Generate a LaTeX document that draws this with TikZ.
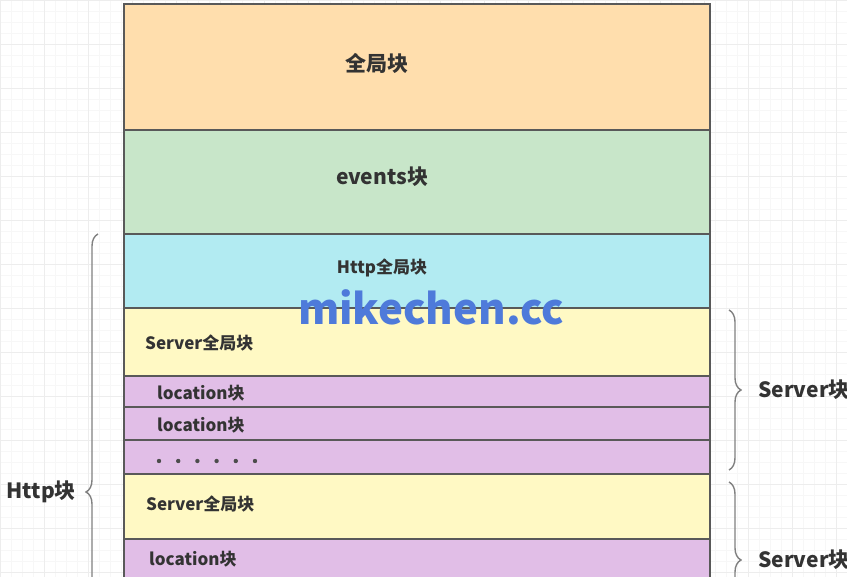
\documentclass[tikz,border=0pt]{standalone}
\usepackage{fontspec}
\setmainfont{Noto Sans CJK SC}
\usetikzlibrary{decorations.pathreplacing}

\definecolor{globalc}{HTML}{FFDEAD}
\definecolor{eventc}{HTML}{C8E6C9}
\definecolor{httpc}{HTML}{B2EBF2}
\definecolor{serverc}{HTML}{FFF9C4}
\definecolor{locc}{HTML}{E1BEE7}
\definecolor{wmblue}{RGB}{78,122,218}

\tikzset{
  rowline/.style={draw=black!65, line width=1.3pt},
  lbl/.style={font=\bfseries\fontsize{17}{17}\selectfont, text=black!80, inner sep=0pt},
  biglbl/.style={font=\bfseries\fontsize{21}{21}\selectfont, text=black!80, inner sep=0pt},
  sidebrace/.style={draw=black!50, line width=1.4pt, decorate, decoration={brace, amplitude=12pt}},
}

\begin{document}
\begin{tikzpicture}[x=1pt,y=-1pt]
  \useasboundingbox (0,0) rectangle (847,577);
  \clip (0,0) rectangle (847,577);
  % faint grid behind
  \draw[black!3, line width=0.6pt] (0,0) grid[step=11pt] (847,577);
  \draw[black!7, line width=0.6pt] (0,0) grid[step=44pt] (847,577);

  \filldraw[fill=globalc, rowline] (124,4) rectangle (710,130);
  \filldraw[fill=eventc, rowline] (124,130) rectangle (710,234);
  \filldraw[fill=httpc, rowline] (124,234) rectangle (710,308);
  \filldraw[fill=serverc, rowline] (124,308) rectangle (710,376);
  \filldraw[fill=locc, rowline] (124,376) rectangle (710,407);
  \filldraw[fill=locc, rowline] (124,407) rectangle (710,440);
  \filldraw[fill=locc, rowline] (124,440) rectangle (710,474);
  \filldraw[fill=serverc, rowline] (124,474) rectangle (710,539);
  \filldraw[fill=locc, rowline] (124,539) rectangle (710,590);

  \node[biglbl] (global) at (377,63) {全局块};
  \node[biglbl] (events) at (382,177) {events块};
  \node[lbl] (httpglobal) at (382,268) {Http全局块};
  \node[lbl, anchor=west] (server1) at (145,343) {Server全局块};
  \node[lbl, anchor=west] (loc1) at (157,393) {location块};
  \node[lbl, anchor=west] (loc2) at (157,425) {location块};
  \foreach \i in {0,...,5}
    \fill[black!70] (159+19.2*\i,461) circle (2.2pt);
  \node[lbl, anchor=west] (server2) at (146,504) {Server全局块};
  \node[lbl, anchor=west] (loc3) at (149,559) {location块};

  % braces on both sides
  \draw[sidebrace] (98,750) -- (98,234);
  \draw[sidebrace] (729,310) -- (729,470);
  \draw[sidebrace] (729,482) -- (729,638);
  \node[biglbl, anchor=east] (httpblock) at (76,492) {Http块};
  \node[biglbl, anchor=west] (srvblock1) at (758,390) {Server块};
  \node[biglbl, anchor=west] (srvblock2) at (758,560) {Server块};

  \node[font=\bfseries\fontsize{42}{42}\selectfont, text=wmblue, inner sep=0pt] (mark) at (431,307) {mikechen.cc};
\end{tikzpicture}
\end{document}
